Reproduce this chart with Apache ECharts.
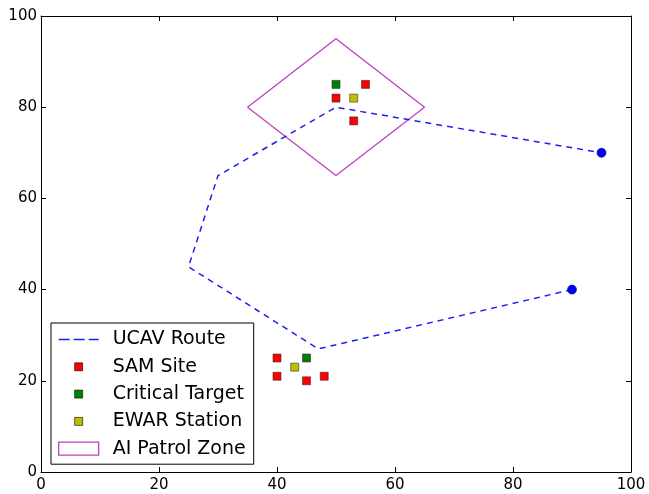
<!DOCTYPE html>
<html>
<head>
<meta charset="utf-8">
<script src="https://cdn.jsdelivr.net/npm/echarts@6/dist/echarts.min.js"></script>
<style>html,body{margin:0;padding:0;background:#fff}#c{width:649px;height:494px}</style>
</head>
<body>
<div id="c"></div>
<script>
// ---- data ----
const routePoints = [[90, 40], [47, 27], [25, 45], [30, 65], [50, 80], [95, 70]];
const samSites = [[50, 82], [55, 85], [53, 77], [40, 25], [40, 21], [45, 20], [48, 21]];
const criticalTargets = [[50, 85], [45, 25]];
const ewarStations = [[53, 82], [43, 23]];
const patrolZone = [[35, 80], [50, 95], [65, 80], [50, 65], [35, 80]];
const axisTicks = [0, 20, 40, 60, 80, 100];
const legendNames = ['UCAV Route', 'SAM Site', 'Critical Target', 'EWAR Station', 'AI Patrol Zone'];

const FONT = 'DejaVu Sans';
const sq = 'path://M0,-2.5 M0,0 h8 v8 h-8 Z M0,10.5';
const dashIcon = 'path://M0,0 M40,13 M0,5.8 h11 v1.5 h-11 Z M15,5.8 h11 v1.5 h-11 Z M30,5.8 h10 v1.5 h-10 Z';
const endpoints = [routePoints[0], routePoints[routePoints.length - 1]];

const chart = echarts.init(document.getElementById('c'), null, {renderer: 'canvas'});
const axisCommon = {
  type: 'value', min: axisTicks[0], max: axisTicks[axisTicks.length - 1], interval: axisTicks[1] - axisTicks[0],
  axisLine: {show: true, onZero: false, lineStyle: {color: '#000', width: 1}},
  axisTick: {show: true, inside: true, length: 5, lineStyle: {color: '#000'}},
  splitLine: {show: false}
};
const option = {
  animation: false,
  backgroundColor: '#fff',
  grid: {left: 41, right: 18, top: 16, bottom: 22, containLabel: false},
  xAxis: [
    Object.assign({}, axisCommon, {position: 'bottom', axisLabel: {show: true, color: '#000', fontSize: 15, fontFamily: FONT, margin: 6}}),
    Object.assign({}, axisCommon, {position: 'top', axisLabel: {show: false}})
  ],
  yAxis: [
    Object.assign({}, axisCommon, {position: 'left', axisLabel: {show: true, color: '#000', fontSize: 15, fontFamily: FONT, margin: 4}}),
    Object.assign({}, axisCommon, {position: 'right', axisLabel: {show: false}})
  ],
  legend: {
    orient: 'vertical', left: 51, top: 323,
    padding: [7, 8, 6, 7], itemGap: 8.3, itemWidth: 40, itemHeight: 13,
    backgroundColor: '#fff', borderColor: '#000', borderWidth: 1, borderRadius: 0,
    textStyle: {fontSize: 19, fontFamily: FONT, color: '#000', lineHeight: 19, padding: [0, 0, 0, 9]},
    data: [
      {name: legendNames[0], icon: dashIcon, itemStyle: {color: '#2020ee', borderWidth: 0, opacity: 1}},
      {name: legendNames[1], icon: sq, itemStyle: {borderColor: '#000', borderWidth: 0.6, opacity: 1}},
      {name: legendNames[2], icon: sq, itemStyle: {borderColor: '#000', borderWidth: 0.6, opacity: 1}},
      {name: legendNames[3], icon: sq, itemStyle: {borderColor: '#000', borderWidth: 0.6, opacity: 1}},
      {name: legendNames[4], icon: 'rect', itemStyle: {color: '#fff', borderColor: '#c040c0', borderWidth: 1.3, opacity: 1}}
    ]
  },
  series: [
    {
      name: legendNames[4], type: 'line', data: patrolZone, symbol: 'none', z: 2,
      lineStyle: {color: '#c040c0', width: 1.3}, itemStyle: {color: '#c040c0'}
    },
    {
      name: legendNames[0], type: 'line', data: routePoints, symbol: 'none', z: 3,
      lineStyle: {color: '#2020ee', width: 1.5, type: [6, 5]}, itemStyle: {color: '#2020ee'}
    },
    {
      name: 'route-ends', type: 'scatter', data: endpoints, symbol: 'circle', symbolSize: 9, z: 4,
      itemStyle: {color: '#0000ff', borderColor: '#000060', borderWidth: 0.6, opacity: 1}
    },
    {
      name: legendNames[1], type: 'scatter', data: samSites, symbol: 'rect', symbolSize: 8, symbolKeepAspect: true, z: 5,
      itemStyle: {color: '#ff0000', borderColor: '#333', borderWidth: 0.6, opacity: 1}
    },
    {
      name: legendNames[2], type: 'scatter', data: criticalTargets, symbol: 'rect', symbolSize: 8, symbolKeepAspect: true, z: 5,
      itemStyle: {color: '#008000', borderColor: '#333', borderWidth: 0.6, opacity: 1}
    },
    {
      name: legendNames[3], type: 'scatter', data: ewarStations, symbol: 'rect', symbolSize: 8, symbolKeepAspect: true, z: 5,
      itemStyle: {color: '#bfbf00', borderColor: '#333', borderWidth: 0.6, opacity: 1}
    }
  ]
};
chart.setOption(option);
</script>
</body>
</html>
